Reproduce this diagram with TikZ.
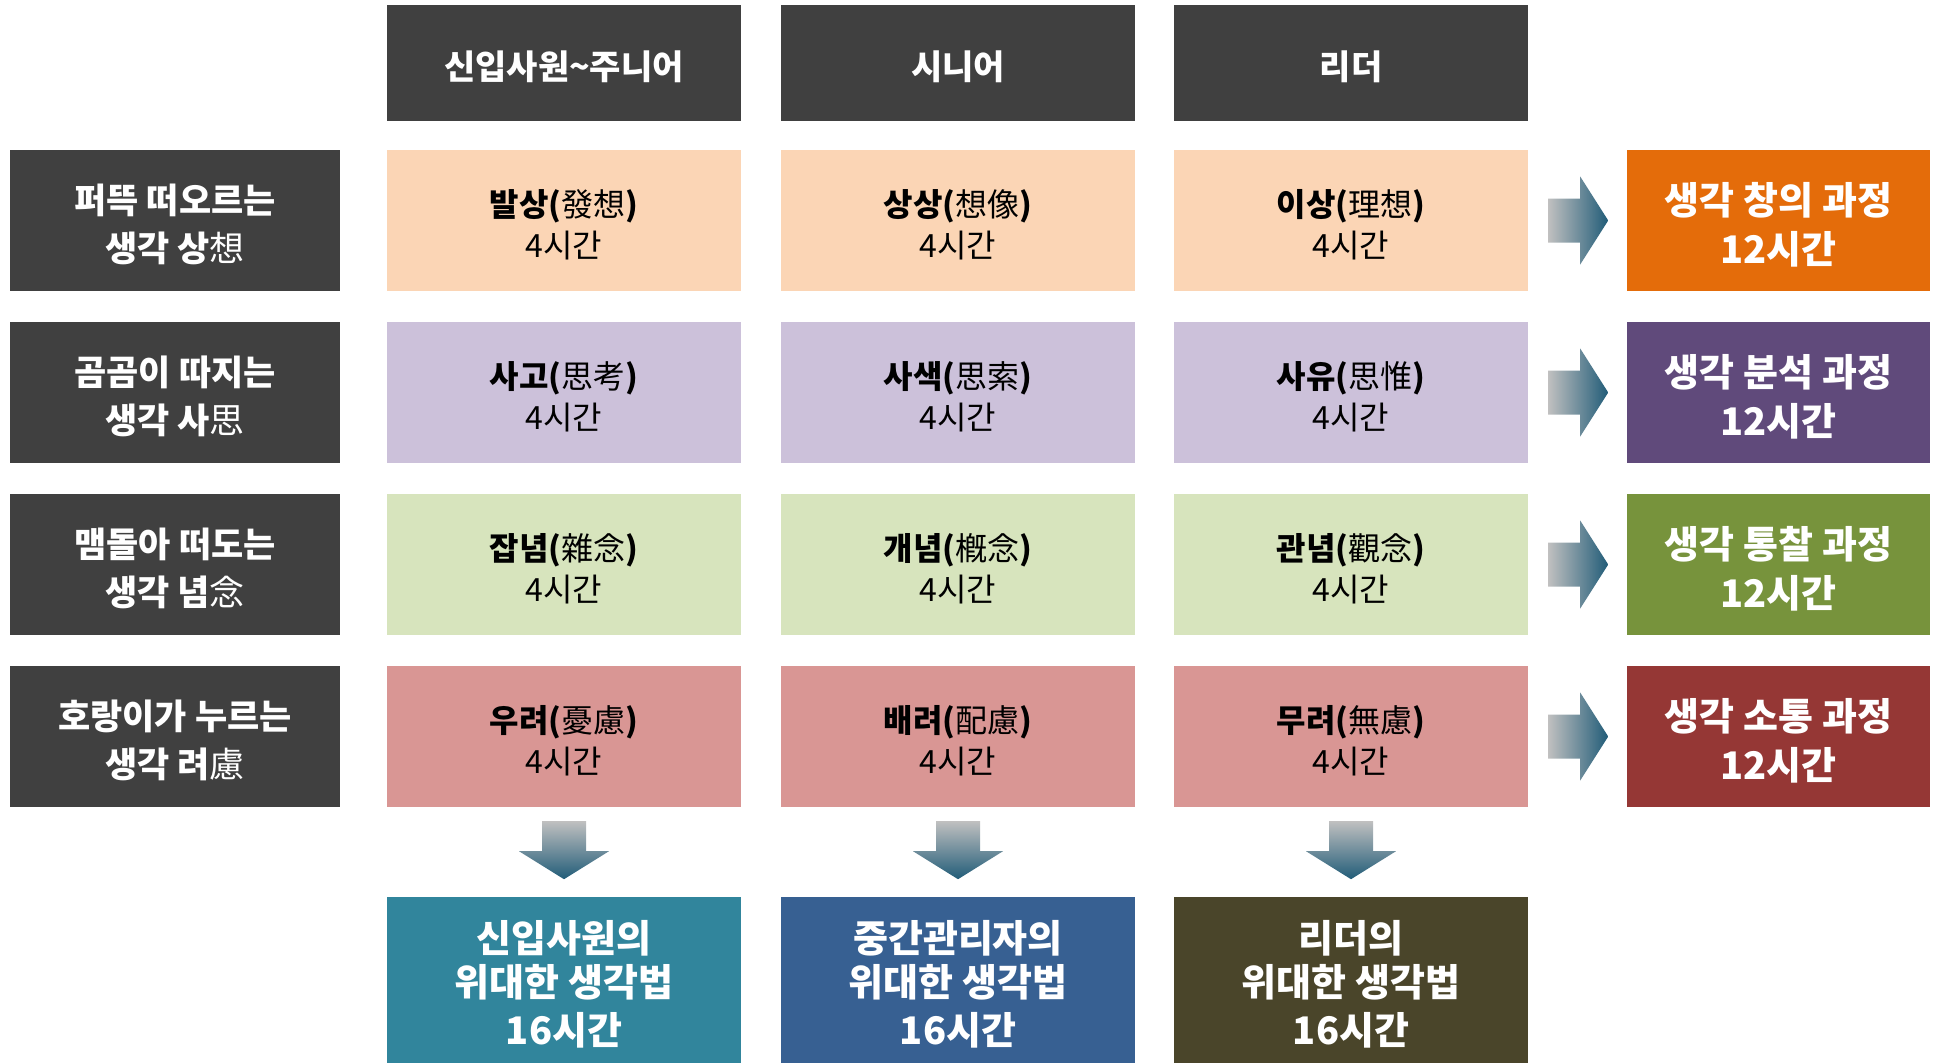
\documentclass[tikz,border=0pt]{standalone}
\usepackage{fontspec}
\setmainfont{Noto Sans CJK KR}
\usetikzlibrary{calc}
\definecolor{dk}{HTML}{404040}
\definecolor{peach}{HTML}{FBD5B5}
\definecolor{lav}{HTML}{CCC1DA}
\definecolor{lgreen}{HTML}{D7E4BD}
\definecolor{rose}{HTML}{D99694}
\definecolor{orangeb}{HTML}{E46C0A}
\definecolor{purpleb}{HTML}{604A7B}
\definecolor{greenb}{HTML}{77933C}
\definecolor{redb}{HTML}{953735}
\definecolor{tealb}{HTML}{31859C}
\definecolor{blueb}{HTML}{376092}
\definecolor{oliveb}{HTML}{4A452A}
\definecolor{agl}{HTML}{C0C0C0}
\definecolor{agd}{HTML}{215C78}
\tikzset{
  box/.style={rectangle, inner sep=0pt, minimum width=354pt, minimum height=141pt},
  txt/.style={inner sep=0pt, align=center, yshift=-4pt},
  hdr/.style={box, fill=dk, minimum height=116pt,
    label={[txt, text=white, font=\fontsize{34}{44}\selectfont\bfseries]center:{#1}}},
  lab/.style={box, fill=dk, minimum width=330pt,
    label={[txt, text=white, font=\fontsize{35}{48}\selectfont\bfseries]center:{#1}}},
  cell/.style={box,
    label={[txt, text=black, font=\fontsize{32}{41}\selectfont]center:{#1}}},
  res/.style={box, minimum width=303pt,
    label={[txt, text=white, font=\fontsize{38}{49}\selectfont\bfseries]center:{#1}}},
  fin/.style={box, minimum height=166pt,
    label={[txt, text=white, font=\fontsize{38}{44}\selectfont\bfseries]center:{#1}}},
  rarrow/.style={left color=agl, right color=agd},
  darrow/.style={top color=agl, bottom color=agd},
}
\newcommand{\hj}[1]{{\mdseries #1}}
\begin{document}
\begin{tikzpicture}[x=1pt, y=-1pt]
\useasboundingbox (0,0) rectangle (1937,1063);
% headers
\node[hdr={신입사원\textasciitilde 주니어}] (h1) at (564,63) {};
\node[hdr={시니어}] (h2) at (958,63) {};
\node[hdr={리더}] (h3) at (1351,63) {};
% left labels
\node[lab={퍼뜩 떠오르는\\생각 상\hj{想}}] (l1) at (175,220.5) {};
\node[lab={곰곰이 따지는\\생각 사\hj{思}}] (l2) at (175,392.5) {};
\node[lab={맴돌아 떠도는\\생각 념\hj{念}}] (l3) at (175,564.5) {};
\node[lab={호랑이가 누르는\\생각 려\hj{慮}}] (l4) at (175,736.5) {};
% row 1
\node[cell={\textbf{발상(}發想\textbf{)}\\4시간}, fill=peach] (c11) at (564,220.5) {};
\node[cell={\textbf{상상(}想像\textbf{)}\\4시간}, fill=peach] (c12) at (958,220.5) {};
\node[cell={\textbf{이상(}理想\textbf{)}\\4시간}, fill=peach] (c13) at (1351,220.5) {};
% row 2
\node[cell={\textbf{사고(}思考\textbf{)}\\4시간}, fill=lav] (c21) at (564,392.5) {};
\node[cell={\textbf{사색(}思索\textbf{)}\\4시간}, fill=lav] (c22) at (958,392.5) {};
\node[cell={\textbf{사유(}思惟\textbf{)}\\4시간}, fill=lav] (c23) at (1351,392.5) {};
% row 3
\node[cell={\textbf{잡념(}雜念\textbf{)}\\4시간}, fill=lgreen] (c31) at (564,564.5) {};
\node[cell={\textbf{개념(}槪念\textbf{)}\\4시간}, fill=lgreen] (c32) at (958,564.5) {};
\node[cell={\textbf{관념(}觀念\textbf{)}\\4시간}, fill=lgreen] (c33) at (1351,564.5) {};
% row 4
\node[cell={\textbf{우려(}憂慮\textbf{)}\\4시간}, fill=rose] (c41) at (564,736.5) {};
\node[cell={\textbf{배려(}配慮\textbf{)}\\4시간}, fill=rose] (c42) at (958,736.5) {};
\node[cell={\textbf{무려(}無慮\textbf{)}\\4시간}, fill=rose] (c43) at (1351,736.5) {};
% results right
\node[res={생각 창의 과정\\12시간}, fill=orangeb] (r1) at (1778.5,220.5) {};
\node[res={생각 분석 과정\\12시간}, fill=purpleb] (r2) at (1778.5,392.5) {};
\node[res={생각 통찰 과정\\12시간}, fill=greenb] (r3) at (1778.5,564.5) {};
\node[res={생각 소통 과정\\12시간}, fill=redb] (r4) at (1778.5,736.5) {};
% bottom
\node[fin={신입사원의\\위대한 생각법\\[4pt]16시간}, fill=tealb] (f1) at (564,980) {};
\node[fin={중간관리자의\\위대한 생각법\\[4pt]16시간}, fill=blueb] (f2) at (958,980) {};
\node[fin={리더의\\위대한 생각법\\[4pt]16시간}, fill=oliveb] (f3) at (1351,980) {};
% right arrows
\foreach \n in {c13,c23,c33,c43}{
  \shade[rarrow] ($(\n.east)+(20,-22)$) -- ($(\n.east)+(52,-22)$) -- ($(\n.east)+(52,-44)$)
    -- ($(\n.east)+(80,0)$) -- ($(\n.east)+(52,44)$) -- ($(\n.east)+(52,22)$) -- ($(\n.east)+(20,22)$) -- cycle;
}
% down arrows
\foreach \n in {c41,c42,c43}{
  \shade[darrow] ($(\n.south)+(-22,14)$) -- ($(\n.south)+(22,14)$) -- ($(\n.south)+(22,44)$)
    -- ($(\n.south)+(45,44)$) -- ($(\n.south)+(0,72)$) -- ($(\n.south)+(-45,44)$) -- ($(\n.south)+(-22,44)$) -- cycle;
}
\end{tikzpicture}
\end{document}
